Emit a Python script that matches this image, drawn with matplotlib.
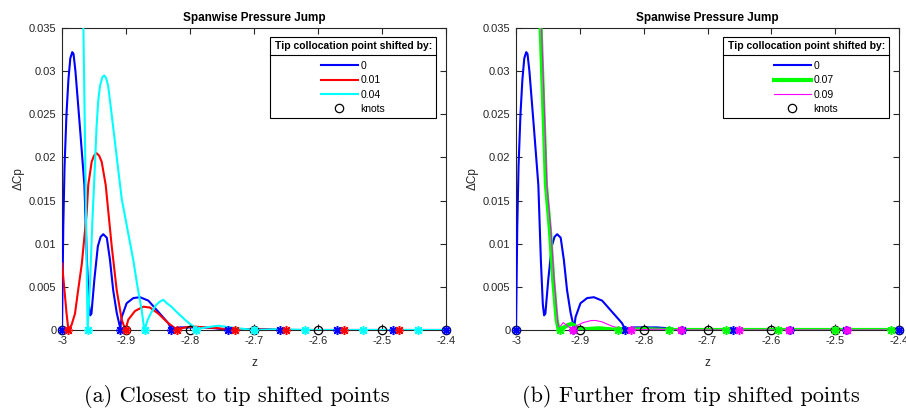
import numpy as np
import matplotlib
matplotlib.use("Agg")
import matplotlib.pyplot as plt
from matplotlib.lines import Line2D

plt.rcParams['font.family'] = ['Liberation Sans', 'DejaVu Sans']

# --- curves (z, delta Cp) ---
blue_z = [-3.000, -2.998, -2.996, -2.993, -2.990, -2.987, -2.984, -2.982, -2.979,
          -2.972, -2.965, -2.961, -2.958, -2.956, -2.954, -2.9495, -2.944, -2.9396,
          -2.9355, -2.930, -2.925, -2.920, -2.9145, -2.909, -2.9067, -2.899, -2.8886,
          -2.878, -2.865, -2.8495, -2.834, -2.829, -2.8156, -2.800, -2.780, -2.760,
          -2.743, -2.72, -2.70, -2.68, -2.657, -2.60, -2.571, -2.5, -2.483, -2.4]
blue_y = [0.0, 0.0120, 0.0190, 0.0250, 0.0290, 0.0315, 0.0322, 0.0320, 0.0300,
          0.0235, 0.0168, 0.0080, 0.0030, 0.0017, 0.0019, 0.0058, 0.0097, 0.0108,
          0.0111, 0.0107, 0.0081, 0.0046, 0.0020, 0.0002, 0.0015, 0.0031, 0.0037,
          0.0038, 0.0034, 0.0021, 0.0008, 0.0001, 0.0003, 0.0003, 0.0003, 0.0002,
          0.0, 0.0001, 0.0001, 0.0001, 0.0, 0.0, 0.0, 0.0, 0.0, 0.0]

red_z = [-3.000, -2.996, -2.993, -2.990, -2.985, -2.9797, -2.975, -2.969, -2.9615,
         -2.959, -2.9536, -2.950, -2.946, -2.942, -2.938, -2.9317, -2.930, -2.9223,
         -2.9145, -2.9067, -2.901, -2.8964, -2.886, -2.873, -2.8625, -2.8495, -2.834,
         -2.820, -2.808, -2.795, -2.775, -2.755, -2.73, -2.70, -2.65, -2.6, -2.56,
         -2.5, -2.473, -2.4]
red_y = [0.0077, 0.0045, 0.0020, 0.0, 0.0006, 0.0019, 0.0045, 0.0077, 0.0135,
         0.0168, 0.0195, 0.0202, 0.0205, 0.0202, 0.0195, 0.0168, 0.0155, 0.0097,
         0.0046, 0.0012, 0.0, 0.0012, 0.0022, 0.0027, 0.0026, 0.0019, 0.0008,
         0.0, 0.0003, 0.0004, 0.0003, 0.0002, 0.0, 0.0001, 0.0, 0.0, 0.0,
         0.0, 0.0, 0.0]

cyan_z = [-2.967, -2.960, -2.956, -2.9526, -2.9495, -2.946, -2.9435, -2.9406, -2.937,
          -2.934, -2.931, -2.9277, -2.920, -2.912, -2.9067, -2.896, -2.8886, -2.882,
          -2.8755, -2.8714, -2.866, -2.860, -2.853, -2.847, -2.842, -2.836, -2.829,
          -2.821, -2.805, -2.789, -2.775, -2.7556, -2.7375, -2.70, -2.66, -2.62,
          -2.58, -2.53, -2.5, -2.443, -2.4]
cyan_y = [0.0375, 0.0, 0.0058, 0.0125, 0.0175, 0.0235, 0.0265, 0.0283, 0.0293,
          0.0295, 0.0292, 0.0282, 0.0235, 0.0185, 0.0152, 0.0110, 0.0081, 0.0050,
          0.0023, 0.0, 0.0012, 0.0021, 0.0029, 0.0033, 0.0035, 0.0031, 0.0027,
          0.0021, 0.0010, 0.0001, 0.0003, 0.0005, 0.0003, 0.0, 0.0001, 0.0,
          0.0, 0.0, 0.0, 0.0, 0.0]

green_z = [-2.9625, -2.9614, -2.9573, -2.9531, -2.9469, -2.9417, -2.9364, -2.9336,
           -2.931, -2.925, -2.918, -2.913, -2.908, -2.902, -2.89, -2.87, -2.855,
           -2.84, -2.80, -2.761, -2.67, -2.59, -2.5, -2.413, -2.4]
green_y = [0.037, 0.035, 0.0261, 0.0168, 0.0116, 0.0058, 0.0012, 0.0002,
           0.0, 0.0003, 0.0006, 0.0007, 0.0005, 0.0002, 0.0001, 0.0002, 0.0001,
           0.0, 0.0001, 0.0, 0.0, 0.0, 0.0, 0.0, 0.0]

magenta_z = [-2.961, -2.960, -2.9558, -2.9516, -2.9454, -2.9402, -2.935, -2.933,
             -2.926, -2.918, -2.912, -2.905, -2.895, -2.882, -2.875, -2.866, -2.848,
             -2.822, -2.78, -2.741, -2.65, -2.57, -2.48, -2.4]
magenta_y = [0.037, 0.035, 0.0261, 0.0168, 0.0116, 0.0058, 0.0012, 0.0002,
             0.00085, 0.0004, 0.0, 0.0005, 0.00085, 0.0011, 0.0011, 0.00096, 0.0004,
             0.0, 0.0001, 0.0, 0.0, 0.0, 0.0, 0.0]

# collocation points (asterisks) and knots, all sitting on dCp = 0
blue_pts = [-3.0, -2.91, -2.83, -2.74, -2.66, -2.57, -2.483, -2.4]
red_pts = [-2.99, -2.90, -2.82, -2.73, -2.65, -2.56, -2.473]
cyan_pts = [-2.96, -2.87, -2.79, -2.70, -2.62, -2.53, -2.443]
green_pts = [-2.931, -2.840, -2.761, -2.671, -2.590, -2.500, -2.413]
magenta_pts = [-2.911, -2.820, -2.741, -2.651, -2.572, -2.482]
knots = [-3.0, -2.9, -2.8, -2.7, -2.6, -2.5, -2.4]

x_ticks = [-3, -2.9, -2.8, -2.7, -2.6, -2.5, -2.4]
x_labels = ['-3', '-2.9', '-2.8', '-2.7', '-2.6', '-2.5', '-2.4']
y_ticks = [0, 0.005, 0.01, 0.015, 0.02, 0.025, 0.03, 0.035]
y_labels = ['0', '0.005', '0.01', '0.015', '0.02', '0.025', '0.03', '0.035']

AX_COL = '#262626'
STAR = (8, 2, 0)

fig = plt.figure(figsize=(9.06, 4.08), dpi=100)
W, H = 906.0, 408.0
ax1 = fig.add_axes([62 / W, 78 / H, 384 / W, 302 / H])
ax2 = fig.add_axes([516 / W, 78 / H, 383 / W, 302 / H])


def style(ax):
    ax.set_xlim(-3, -2.4)
    ax.set_ylim(0, 0.035)
    ax.set_xticks(x_ticks)
    ax.set_xticklabels(x_labels)
    ax.set_yticks(y_ticks)
    ax.set_yticklabels(y_labels)
    ax.tick_params(direction='in', length=4, width=0.8, colors=AX_COL,
                   labelsize=8, top=True, right=True, pad=4)
    for s in ax.spines.values():
        s.set_color(AX_COL)
        s.set_linewidth(0.8)
    ax.set_title('Spanwise Pressure Jump', fontsize=8.5, fontweight='bold', pad=5)
    ax.set_xlabel('z', fontsize=8.5, color=AX_COL, labelpad=8)
    ax.set_ylabel('ΔCp', fontsize=8.5, color=AX_COL, labelpad=3)


def stars(ax, pts, color):
    ax.plot(pts, np.zeros(len(pts)), linestyle='none', marker=STAR, ms=6.5,
            mew=1.1, color=color, zorder=4, clip_on=False)


def add_legend(ax, handles):
    leg = ax.legend(handles=handles, loc='upper right', bbox_to_anchor=(0.974, 0.97),
                    title='Tip collocation point shifted by:', alignment='center',
                    fontsize=7.5, title_fontproperties={'weight': 'bold', 'size': 7.5},
                    fancybox=False, framealpha=1, edgecolor='black',
                    handlelength=3.5, handletextpad=0.3, labelspacing=0.42,
                    borderpad=0.4, borderaxespad=0)
    leg.get_frame().set_linewidth(0.8)
    # wider gap between title and entries, like MATLAB
    leg._legend_box.sep = 7
    return leg


# left panel
style(ax1)
l1, = ax1.plot(blue_z, blue_y, color='#0000ff', lw=1.5, label='0', zorder=3)
l2, = ax1.plot(red_z, red_y, color='#ff0000', lw=1.5, label='0.01', zorder=3)
l3, = ax1.plot(cyan_z, cyan_y, color='#00ffff', lw=1.5, label='0.04', zorder=3)
k1, = ax1.plot(knots, np.zeros(len(knots)), linestyle='none', marker='o', ms=6,
               mfc='none', mec='black', mew=0.9, label='knots', zorder=3.5, clip_on=False)
stars(ax1, blue_pts, '#0000ff')
stars(ax1, red_pts, '#ff0000')
stars(ax1, cyan_pts, '#00ffff')
leg1 = add_legend(ax1, [l1, l2, l3, k1])

# right panel
style(ax2)
r1, = ax2.plot(blue_z, blue_y, color='#0000ff', lw=1.5, label='0', zorder=3)
r2, = ax2.plot(green_z, green_y, color='#00ff00', lw=3, label='0.07', zorder=3)
r3, = ax2.plot(magenta_z, magenta_y, color='#ff00ff', lw=0.8, label='0.09', zorder=3)
k2, = ax2.plot(knots, np.zeros(len(knots)), linestyle='none', marker='o', ms=6,
               mfc='none', mec='black', mew=0.9, label='knots', zorder=3.5, clip_on=False)
stars(ax2, blue_pts, '#0000ff')
stars(ax2, green_pts, '#00ff00')
stars(ax2, magenta_pts, '#ff00ff')
leg2 = add_legend(ax2, [r1, r2, r3, k2])

fig.text(237 / W, 1 - 397 / H, '(a) Closest to tip shifted points', family='cmr10',
         fontsize=16, ha='center', va='center')
fig.text(691 / W, 1 - 397 / H, '(b) Further from tip shifted points', family='cmr10',
         fontsize=16, ha='center', va='center')

# MATLAB-style rule under the legend title
fig.canvas.draw()
for leg in (leg1, leg2):
    fb = leg.get_frame().get_window_extent()
    tb = leg.get_title().get_window_extent()
    ymid = tb.y0 - 4
    fig.add_artist(Line2D([fb.x0, fb.x1], [ymid, ymid], color='black', lw=0.8,
                          transform=None))

fig.savefig('out.png', dpi=100)
